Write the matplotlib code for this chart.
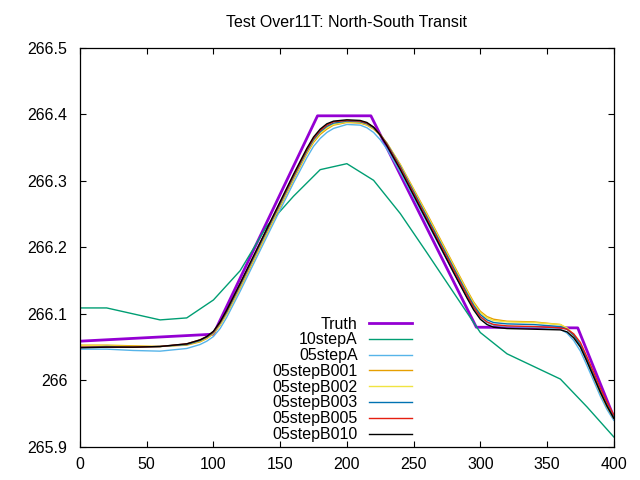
import matplotlib
matplotlib.use('Agg')
from matplotlib import pyplot as plt

plt.rcParams['font.family'] = ['Liberation Sans', 'DejaVu Sans']

# truth profile (corner points)
truth_x = [0, 100, 178, 218, 297, 373, 400]
truth_y = [266.059, 266.0695, 266.398, 266.398, 266.080, 266.079, 265.945]

# 10stepA
step10_x = [0, 20, 40, 60, 80, 100, 120, 140, 160, 180, 200, 220, 240, 260,
            280, 300, 320, 340, 360, 380, 400]
step10_y = [266.109, 266.109, 266.100, 266.091, 266.094, 266.121, 266.165,
            266.232, 266.277, 266.317, 266.326, 266.301, 266.251, 266.192,
            266.132, 266.072, 266.040, 266.021, 266.002, 265.960, 265.915]

# shared x grid for the 05step runs
x05 = [0, 20, 40, 60, 80, 90, 95, 100, 105, 110, 120, 140, 160, 170, 175, 180,
       185, 190, 200, 210, 215, 220, 225, 230, 240, 260, 280, 290, 295, 300,
       305, 310, 320, 340, 360, 365, 370, 375, 380, 385, 390, 395, 400]

step05A = [266.047, 266.047, 266.045, 266.044, 266.048, 266.054, 266.059,
           266.066, 266.078, 266.095, 266.134, 266.216, 266.297, 266.335,
           266.352, 266.364, 266.373, 266.379, 266.385, 266.384, 266.380,
           266.373, 266.362, 266.348, 266.313, 266.238, 266.162, 266.125,
           266.108, 266.095, 266.087, 266.083, 266.081, 266.080, 266.077,
           266.071, 266.060, 266.044, 266.022, 265.999, 265.976, 265.956,
           265.940]

step05B001 = [266.053, 266.053, 266.052, 266.051, 266.053, 266.058, 266.063,
              266.070, 266.083, 266.100, 266.139, 266.221, 266.302, 266.341,
              266.358, 266.370, 266.378, 266.384, 266.388, 266.387, 266.384,
              266.378, 266.369, 266.357, 266.325, 266.251, 266.174, 266.136,
              266.118, 266.104, 266.096, 266.092, 266.089, 266.088, 266.084,
              266.078, 266.067, 266.051, 266.029, 266.005, 265.981, 265.960,
              265.943]

step05B002 = [266.052, 266.052, 266.051, 266.051, 266.054, 266.059, 266.064,
              266.071, 266.084, 266.101, 266.141, 266.223, 266.304, 266.343,
              266.360, 266.372, 266.380, 266.385, 266.389, 266.388, 266.385,
              266.379, 266.370, 266.357, 266.324, 266.249, 266.172, 266.134,
              266.116, 266.102, 266.094, 266.090, 266.088, 266.087, 266.084,
              266.079, 266.069, 266.053, 266.031, 266.007, 265.983, 265.962,
              265.944]

step05B003 = [266.050, 266.051, 266.050, 266.051, 266.054, 266.060, 266.065,
              266.072, 266.086, 266.103, 266.143, 266.225, 266.306, 266.345,
              266.362, 266.374, 266.382, 266.387, 266.390, 266.389, 266.386,
              266.380, 266.370, 266.356, 266.322, 266.246, 266.169, 266.131,
              266.113, 266.099, 266.091, 266.087, 266.085, 266.084, 266.081,
              266.077, 266.068, 266.053, 266.031, 266.008, 265.984, 265.963,
              265.945]

step05B005 = [266.050, 266.050, 266.050, 266.051, 266.055, 266.061, 266.066,
              266.073, 266.087, 266.105, 266.145, 266.227, 266.308, 266.347,
              266.364, 266.376, 266.384, 266.389, 266.391, 266.390, 266.387,
              266.381, 266.370, 266.355, 266.320, 266.243, 266.166, 266.128,
              266.110, 266.096, 266.088, 266.084, 266.082, 266.081, 266.079,
              266.077, 266.070, 266.057, 266.035, 266.012, 265.988, 265.967,
              265.948]

step05B010 = [266.049, 266.050, 266.050, 266.051, 266.055, 266.061, 266.066,
              266.074, 266.088, 266.106, 266.146, 266.228, 266.310, 266.349,
              266.366, 266.378, 266.386, 266.390, 266.392, 266.391, 266.388,
              266.381, 266.369, 266.353, 266.317, 266.240, 266.162, 266.124,
              266.106, 266.092, 266.084, 266.080, 266.078, 266.077, 266.076,
              266.073, 266.064, 266.050, 266.028, 266.005, 265.982, 265.961,
              265.943]

xticks = [0, 50, 100, 150, 200, 250, 300, 350, 400]
yticks = [265.9, 266, 266.1, 266.2, 266.3, 266.4, 266.5]
ylabels = ['265.9', '266', '266.1', '266.2', '266.3', '266.4', '266.5']


def main():
    fig = plt.figure(figsize=(6.4, 4.8), dpi=100)
    ax = fig.add_axes([0.125, 0.069, 0.834, 0.831])

    ax.plot(truth_x, truth_y, color='#9400d3', lw=2.0, label='Truth')
    ax.plot(step10_x, step10_y, color='#009e73', lw=1.0, label='10stepA')
    runs = [('05stepA', step05A, '#56b4e9'),
            ('05stepB001', step05B001, '#e69f00'),
            ('05stepB002', step05B002, '#f0e442'),
            ('05stepB003', step05B003, '#0072b2'),
            ('05stepB005', step05B005, '#e51e10'),
            ('05stepB010', step05B010, '#000000')]
    for name, ys, col in runs:
        ax.plot(x05, ys, color=col, lw=1.0, label=name)

    ax.set_xlim(0, 400)
    ax.set_ylim(265.9, 266.5)
    ax.set_xticks(xticks)
    ax.set_yticks(yticks)
    ax.set_yticklabels(ylabels)
    ax.tick_params(direction='in', length=4, width=0.8, top=True, right=True,
                   labelsize=11.5)
    ax.tick_params(axis='y', pad=9)
    ax.tick_params(axis='x', pad=7)
    for s in ax.spines.values():
        s.set_linewidth(0.9)

    ax.set_title('Test Over11T: North-South Transit', fontsize=11.5, pad=15)

    leg = ax.legend(loc='lower right', bbox_to_anchor=(0.622, 0.012),
                    frameon=False, markerfirst=False, fontsize=11.5,
                    handlelength=2.7, handletextpad=0.7, labelspacing=0.05,
                    borderaxespad=0, borderpad=0)
    for col in leg._legend_handle_box.get_children():
        col.align = 'right'

    fig.savefig('out.png', dpi=100)


if __name__ == '__main__': main()
